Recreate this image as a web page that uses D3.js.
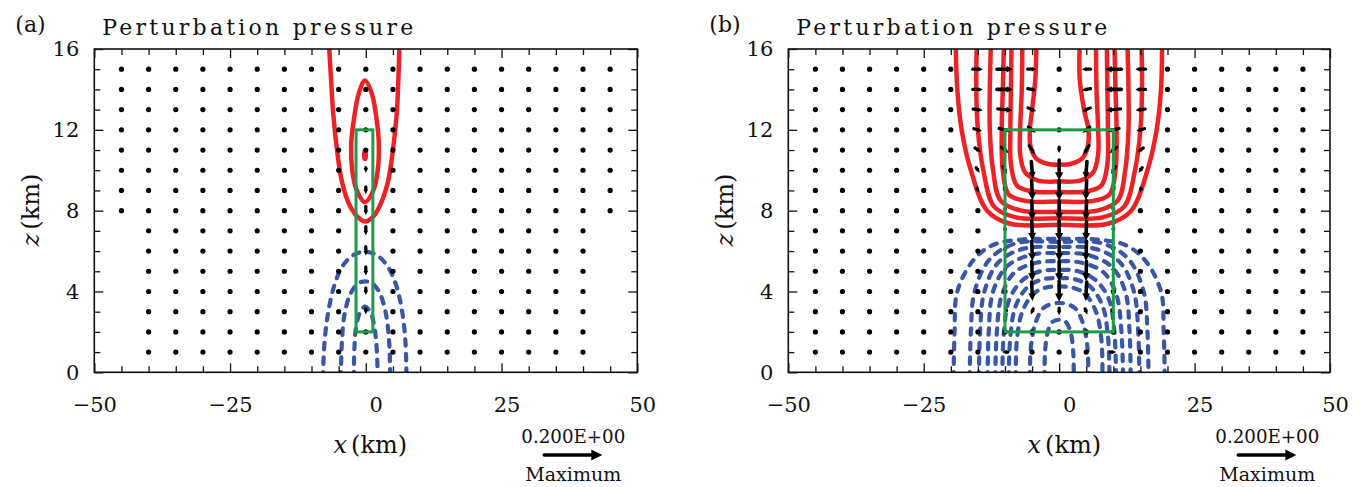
<!DOCTYPE html>
<html lang="en">
<head>
<meta charset="utf-8">
<title>Perturbation pressure</title>
<script src="https://d3js.org/d3.v7.min.js"></script>
<style>
  body { margin: 0; background: #fff; }
  text { font-family: "DejaVu Serif", "Liberation Serif", serif; fill: #111; }
</style>
</head>
<body>
<script>
// axes
var xTickLabels = [-50, -25, 0, 25, 50];
var zTickLabels = [0, 4, 8, 12, 16];
var xMinorTicks = [-45, -40, -35, -30, -20, -15, -10, -5, 5, 10, 15, 20, 30, 35, 40, 45];
var zMinorTicks = [1, 2, 3, 5, 6, 7, 9, 10, 11, 13, 14, 15];

// vector grid
var gridX = [-45, -40, -35, -30, -25, -20, -15, -10, -5, 0, 5, 10, 15, 20, 25, 30, 35, 40, 45];
var gridZ = [1, 2, 3, 4, 5, 6, 7, 8, 9, 10, 11, 12, 13, 14, 15];
// rows [zFrom, zTo, xFrom, xTo] where vectors are plotted
var gridRowsA = [[1, 7, -40, 40], [8, 15, -45, 45]];
var gridRowsB = [[1, 15, -45, 45]];

// non-negligible vectors [x, z, u, w]
var vecA = [
  [0, 3, 0, -0.02], [0, 4, 0, -0.025], [0, 5, 0, -0.03], [0, 6, 0, -0.03],
  [0, 7, 0, -0.03], [0, 8, 0, -0.03], [0, 9, 0, -0.025], [0, 10, 0, -0.018]
];
var vecB = [
  [0, 3, 0, -0.025], [0, 4, 0, -0.07], [0, 5, 0, -0.07], [0, 6, 0, -0.07], [0, 7, 0, -0.07],
  [0, 8, 0, -0.07], [0, 9, 0, -0.07], [0, 10, 0, -0.07], [0, 11, 0, -0.02],
  [-5, 4, 0.003, -0.065], [-5, 5, 0.002, -0.068], [-5, 6, 0.002, -0.068], [-5, 7, 0.002, -0.068],
  [-5, 8, 0.002, -0.068], [-5, 9, 0.003, -0.068], [-5, 10, 0.005, -0.06], [-5, 11, 0.02, -0.03],
  [-5, 12, 0.025, -0.02], [-5, 13, 0.028, -0.012], [-5, 14, 0.03, -0.005], [-5, 15, 0.03, 0],
  [-5, 3, -0.008, -0.02],
  [5, 4, -0.003, -0.065], [5, 5, -0.002, -0.068], [5, 6, -0.002, -0.068], [5, 7, -0.002, -0.068],
  [5, 8, -0.002, -0.068], [5, 9, -0.003, -0.068], [5, 10, -0.005, -0.06], [5, 11, -0.02, -0.03],
  [5, 12, -0.025, -0.02], [5, 13, -0.028, -0.012], [5, 14, -0.03, -0.005], [5, 15, -0.03, 0],
  [5, 3, 0.008, -0.02],
  [-10, 15, 0.055, 0], [-10, 14, 0.055, 0], [-10, 13, 0.05, -0.005], [-10, 12, 0.04, -0.01],
  [-10, 11, 0.025, -0.02], [-10, 10, 0.015, -0.025], [-10, 9, 0.005, -0.02], [-10, 8, 0, -0.015],
  [-10, 7, 0, -0.015], [-10, 6, 0, -0.015], [-10, 5, 0, -0.015], [-10, 4, 0, -0.012],
  [-10, 3, -0.01, -0.012], [-10, 1, -0.02, 0],
  [10, 15, -0.055, 0], [10, 14, -0.055, 0], [10, 13, -0.05, -0.005], [10, 12, -0.04, -0.01],
  [10, 11, -0.025, -0.02], [10, 10, -0.015, -0.025], [10, 9, -0.005, -0.02], [10, 8, 0, -0.015],
  [10, 7, 0, -0.015], [10, 6, 0, -0.015], [10, 5, 0, -0.015], [10, 4, 0, -0.012],
  [10, 3, 0.01, -0.012], [10, 1, 0.02, 0],
  [-15, 15, 0.035, 0], [-15, 14, 0.035, 0], [-15, 13, 0.033, -0.004], [-15, 12, 0.028, -0.008],
  [-15, 11, 0.02, -0.015], [-15, 10, 0.012, -0.018], [-15, 9, 0.005, -0.015],
  [15, 15, -0.035, 0], [15, 14, -0.035, 0], [15, 13, -0.033, -0.004], [15, 12, -0.028, -0.008],
  [15, 11, -0.02, -0.015], [15, 10, -0.012, -0.018], [15, 9, -0.005, -0.015]
];

// contour lines, [x, z] points
var redA = [
  [[-6.8, 16.3], [-6.4, 14.5], [-6.0, 12.8], [-5.3, 11], [-4.45, 9.5], [-3.2, 8.4], [-1.7, 7.75],
   [-0.15, 7.46], [1.5, 7.75], [3, 8.5], [4.14, 9.5], [5.0, 11], [5.7, 12.8], [6.0, 14.5], [6.2, 16.3]]
];
var redAClosed = [
  [[-0.15, 14.44], [-1.3, 13.8], [-2.2, 12.5], [-2.7, 11.3], [-2.5, 10], [-1.7, 9.03], [-0.15, 8.42],
   [1.4, 9.0], [2.2, 10], [2.4, 11.3], [2.0, 12.5], [1.1, 13.8]],
  [[-0.15, 10.95], [-0.3, 10.75], [-0.15, 10.55], [0.0, 10.75]]
];
var blueA = [
  [[-7.9, -0.3], [-7.6, 1.5], [-6.9, 3.0], [-5.8, 4.3], [-4.3, 5.25], [-2.3, 5.8], [-0.15, 5.97],
   [2, 5.8], [4.0, 5.25], [5.6, 4.3], [6.7, 3.0], [7.3, 1.5], [7.5, -0.3]],
  [[-4.6, -0.3], [-4.4, 1.5], [-3.9, 2.9], [-2.8, 3.9], [-1.4, 4.4], [-0.15, 4.5], [1.2, 4.4],
   [2.6, 3.9], [3.7, 2.9], [4.3, 1.5], [4.5, -0.3]],
  [[-2.2, -0.3], [-2.1, 1.2], [-1.8, 2.2], [-1.1, 2.95], [-0.15, 3.25], [0.9, 2.95], [1.6, 2.2],
   [2.0, 1.2], [2.2, -0.3]]
];
var redB = [
  [[-4.2, 16.3], [-4.4, 14.5], [-5.0, 13], [-5.4, 12], [-5.3, 11.2], [-4.3, 10.6], [-2.2, 10.32], [0, 10.27],
   [2.2, 10.32], [4.3, 10.6], [5.3, 11.2], [5.4, 12], [4.6, 13], [3.8, 14.5], [3.8, 16.3]],
  [[-6.8, 16.3], [-6.9, 14], [-7.2, 12], [-7.2, 10.8], [-6.3, 9.9], [-4, 9.5], [0, 9.44], [4, 9.5],
   [6.3, 9.9], [7.2, 10.8], [7.2, 12], [6.9, 14], [6.8, 16.3]],
  [[-8.8, 16.3], [-8.9, 14], [-9.0, 12], [-8.9, 10.3], [-7.8, 9.25], [-5, 8.95], [0, 8.92], [5, 8.95],
   [7.8, 9.25], [8.9, 10.3], [9.0, 12], [8.9, 14], [8.8, 16.3]],
  [[-10.2, 16.3], [-10.4, 14], [-10.6, 12], [-10.4, 10], [-9.3, 8.8], [-6, 8.47], [0, 8.45], [6, 8.47],
   [9.3, 8.8], [10.4, 10], [10.6, 12], [10.4, 14], [10.2, 16.3]],
  [[-12.6, 16.3], [-12.8, 14], [-12.8, 12], [-12.2, 10], [-10.8, 8.5], [-7, 8.0], [0, 7.95], [7, 8.0],
   [10.8, 8.5], [12.2, 10], [12.8, 12], [12.8, 14], [12.6, 16.3]],
  [[-15.2, 16.3], [-15.3, 14], [-15, 12], [-14, 10], [-12, 8.2], [-8, 7.67], [0, 7.63], [8, 7.67],
   [12, 8.2], [14, 10], [15, 12], [15.3, 14], [15.2, 16.3]],
  [[-19.1, 16.3], [-18.8, 14], [-18, 12], [-16.3, 10], [-13.3, 8], [-9, 7.35], [0, 7.3], [9, 7.35],
   [13.3, 8], [16.3, 10], [18, 12], [18.8, 14], [19, 16.3]]
];
var blueB = [
  [[-19.5, -0.3], [-19.3, 2], [-18.8, 4], [-15.8, 5.56], [-12.2, 6.3], [-7, 6.57], [0, 6.6], [7, 6.57], [12.2, 6.3], [15.8, 5.56], [18.8, 4], [19.3, 2], [19.5, -0.3]],
  [[-16.5, -0.3], [-16.3, 2], [-15.6, 4], [-12.8, 5.6], [-8, 6.38], [0, 6.45], [8, 6.38], [12.8, 5.6], [15.6, 4], [16.3, 2], [16.5, -0.3]],
  [[-14.8, -0.3], [-14.6, 2], [-13.8, 4], [-11.2, 5.45], [-6.5, 6.12], [0, 6.2], [6.5, 6.12], [11.2, 5.45], [13.8, 4], [14.6, 2], [14.8, -0.3]],
  [[-13.2, -0.3], [-13, 2], [-12.2, 4], [-9.6, 5.25], [-5, 5.82], [0, 5.9], [5, 5.82], [9.6, 5.25], [12.2, 4], [13, 2], [13.2, -0.3]],
  [[-11.8, -0.3], [-11.5, 2], [-10.6, 3.8], [-8.2, 4.95], [-4, 5.43], [0, 5.5], [4, 5.43], [8.2, 4.95], [10.6, 3.8], [11.5, 2], [11.8, -0.3]],
  [[-10.5, -0.3], [-10.2, 2], [-9.2, 3.6], [-6.8, 4.55], [-3.5, 5.0], [0, 5.07], [3.5, 5.0], [6.8, 4.55], [9.2, 3.6], [10.2, 2], [10.5, -0.3]],
  [[-9.3, -0.3], [-9.0, 1.8], [-8.0, 3.3], [-5.7, 4.25], [-3, 4.6], [0, 4.66], [3, 4.6], [5.7, 4.25], [8.0, 3.3], [9.0, 1.8], [9.3, -0.3]],
  [[-8, -0.3], [-7.8, 1.6], [-6.8, 3.0], [-4.7, 3.9], [-2.5, 4.19], [0, 4.25], [2.5, 4.19], [4.7, 3.9], [6.8, 3.0], [7.8, 1.6], [8, -0.3]],
  [[-5.4, -0.3], [-5.2, 1.3], [-4.3, 2.5], [-2.8, 3.2], [0, 3.43], [2.8, 3.2], [4.3, 2.5], [5.2, 1.3], [5.4, -0.3]],
  [[-2.7, -0.3], [-2.6, 1.0], [-2.1, 2.0], [-1.2, 2.5], [0, 2.6], [1.2, 2.5], [2.1, 2.0], [2.6, 1.0], [2.7, -0.3]]
];

// forcing boxes [x0, x1, z0, z1]
var boxA = [-1.8, 1.3, 2, 12];
var boxB = [-10, 10, 2, 12];

var refVector = 0.2;
var refLabel = "0.200E+00";

var W = 1364, H = 487;
var plotTop = 49, plotBottom = 372.3;
var vecScale = 290; // px per unit of vector

var svg = d3.select("body").append("svg")
  .attr("width", W).attr("height", H);

var panels = [
  { id: "a", left: 94.3, right: 637.3, grid: gridRowsA, vec: vecA, red: redA, redClosed: redAClosed, blue: blueA, box: boxA },
  { id: "b", left: 788.3, right: 1330, grid: gridRowsB, vec: vecB, red: redB, redClosed: [], blue: blueB, box: boxB }
];

var RED = "#ec2227", BLUE = "#3b56a5", GREEN = "#1e9a48";

panels.forEach(function(p) {
  var g = svg.append("g");
  var x = d3.scaleLinear().domain([-50, 50]).range([p.left, p.right]);
  var z = d3.scaleLinear().domain([0, 16]).range([plotBottom, plotTop]);

  var clipId = "clip-" + p.id;
  svg.append("clipPath").attr("id", clipId).append("rect")
    .attr("x", p.left).attr("y", plotTop)
    .attr("width", p.right - p.left).attr("height", plotBottom - plotTop);

  var inner = g.append("g").attr("clip-path", "url(#" + clipId + ")");

  var line = d3.line().x(function(d) { return x(d[0]); }).y(function(d) { return z(d[1]); })
    .curve(d3.curveCatmullRom.alpha(0.5));
  var closed = d3.line().x(function(d) { return x(d[0]); }).y(function(d) { return z(d[1]); })
    .curve(d3.curveCatmullRomClosed.alpha(0.5));

  // blue (negative) contours, dashed
  inner.selectAll("path.neg").data(p.blue).enter().append("path")
    .attr("class", "neg").attr("d", line)
    .attr("fill", "none").attr("stroke", BLUE).attr("stroke-width", 4.2)
    .attr("stroke-linecap", "round").attr("stroke-dasharray", "6.5,8");

  // red (positive) contours
  inner.selectAll("path.pos").data(p.red).enter().append("path")
    .attr("class", "pos").attr("d", line)
    .attr("fill", "none").attr("stroke", RED).attr("stroke-width", 4.5);
  inner.selectAll("path.posc").data(p.redClosed).enter().append("path")
    .attr("class", "posc").attr("d", closed)
    .attr("fill", "none").attr("stroke", RED).attr("stroke-width", 4.5);

  // vectors
  var vecMap = {};
  p.vec.forEach(function(v) { vecMap[v[0] + "," + v[1]] = v; });
  var pts = [];
  p.grid.forEach(function(r) {
    gridZ.forEach(function(zz) {
      if (zz < r[0] || zz > r[1]) return;
      gridX.forEach(function(xx) {
        if (xx < r[2] || xx > r[3]) return;
        pts.push(vecMap[xx + "," + zz] || [xx, zz, 0, 0]);
      });
    });
  });
  pts.forEach(function(v) { drawVector(inner, x(v[0]), z(v[1]), v[2], v[3]); });

  // forcing box
  inner.append("rect")
    .attr("x", x(p.box[0])).attr("y", z(p.box[3]))
    .attr("width", x(p.box[1]) - x(p.box[0])).attr("height", z(p.box[2]) - z(p.box[3]))
    .attr("fill", "none").attr("stroke", GREEN).attr("stroke-width", 3);

  // axes with inward ticks
  var axes = g.append("g").attr("class", "axes");
  function addAxis(gen, tr) {
    var a = axes.append("g").attr("transform", tr).call(gen);
    a.select(".domain").remove();
    a.selectAll("line").attr("stroke", "#111").attr("stroke-width", 1.3);
    return a;
  }
  addAxis(d3.axisBottom(x).tickValues(xMinorTicks).tickSize(-6).tickFormat(""), "translate(0," + plotBottom + ")");
  addAxis(d3.axisTop(x).tickValues(xMinorTicks).tickSize(-6).tickFormat(""), "translate(0," + plotTop + ")");
  addAxis(d3.axisLeft(z).tickValues(zMinorTicks).tickSize(-6).tickFormat(""), "translate(" + p.left + ",0)");
  addAxis(d3.axisRight(z).tickValues(zMinorTicks).tickSize(-6).tickFormat(""), "translate(" + p.right + ",0)");
  addAxis(d3.axisTop(x).tickValues(xTickLabels).tickSize(-9).tickFormat(""), "translate(0," + plotTop + ")");
  addAxis(d3.axisRight(z).tickValues(zTickLabels).tickSize(-9).tickFormat(""), "translate(" + p.right + ",0)");

  var bx = addAxis(d3.axisBottom(x).tickValues(xTickLabels).tickSize(-9).tickPadding(25)
    .tickFormat(d3.format("d")), "translate(0," + plotBottom + ")");
  bx.selectAll("text").attr("font-size", 21).attr("font-family", "DejaVu Serif")
    .attr("fill", "#111")
    .attr("dx", function(d) { return d === 0 ? 10 : (d > 0 ? 5 : 0); });
  var lz = addAxis(d3.axisLeft(z).tickValues(zTickLabels).tickSize(-9).tickPadding(15)
    .tickFormat(d3.format("d")), "translate(" + p.left + ",0)");
  lz.selectAll("text").attr("font-size", 21).attr("font-family", "DejaVu Serif").attr("fill", "#111");

  // frame
  g.append("rect").attr("x", p.left).attr("y", plotTop)
    .attr("width", p.right - p.left).attr("height", plotBottom - plotTop)
    .attr("fill", "none").attr("stroke", "#111").attr("stroke-width", 1.6);

  // titles and axis labels
  g.append("text").attr("x", p.left - 79).attr("y", 32).attr("font-size", 22).text("(" + p.id + ")");
  g.append("text").attr("x", p.left + 8).attr("y", 35).attr("font-size", 22)
    .attr("textLength", 311).attr("lengthAdjust", "spacing").text("Perturbation pressure");

  var xl = g.append("text").attr("x", p.left + 276).attr("y", 453).attr("font-size", 24).attr("text-anchor", "middle");
  xl.append("tspan").attr("font-style", "italic").text("x");
  xl.append("tspan").attr("dx", 4).text("(km)");

  var zl = g.append("text").attr("transform", "translate(" + (p.left - 55) + "," + 210 + ") rotate(-90)")
    .attr("font-size", 24).attr("text-anchor", "middle");
  zl.append("tspan").attr("font-style", "italic").text("z");
  zl.append("tspan").attr("dx", 4).text("(km)");

  // reference vector
  var rx = p.left + 479;
  g.append("text").attr("x", rx).attr("y", 443).attr("font-size", 18).attr("text-anchor", "middle")
    .attr("textLength", 104).attr("lengthAdjust", "spacingAndGlyphs").text(refLabel);
  drawVector(g, rx, 455, refVector, 0);
  g.append("text").attr("x", rx).attr("y", 481).attr("font-size", 18).attr("text-anchor", "middle")
    .attr("textLength", 96).attr("lengthAdjust", "spacingAndGlyphs").text("Maximum");
});

function drawVector(sel, cx, cy, u, w) {
  var dx = u * vecScale, dy = -w * vecScale;
  var L = Math.sqrt(dx * dx + dy * dy);
  if (L < 3.5) {
    sel.append("circle").attr("cx", cx).attr("cy", cy).attr("r", 2.6).attr("fill", "#000");
    return;
  }
  var x0 = cx - dx / 2, y0 = cy - dy / 2, x1 = cx + dx / 2, y1 = cy + dy / 2;
  var ux = dx / L, uy = dy / L;
  var hl = Math.min(11, Math.max(4.5, L * 0.4)), hw = hl * 0.5;
  var bxp = x1 - ux * hl, byp = y1 - uy * hl;
  sel.append("line").attr("x1", x0).attr("y1", y0).attr("x2", bxp).attr("y2", byp)
    .attr("stroke", "#000").attr("stroke-width", L > 15 ? 3.6 : 3.2).attr("stroke-linecap", "round");
  sel.append("path")
    .attr("d", "M" + x1 + "," + y1 + "L" + (bxp - uy * hw) + "," + (byp + ux * hw) +
      "L" + (bxp + uy * hw) + "," + (byp - ux * hw) + "Z")
    .attr("fill", "#000");
}
</script>
</body>
</html>
